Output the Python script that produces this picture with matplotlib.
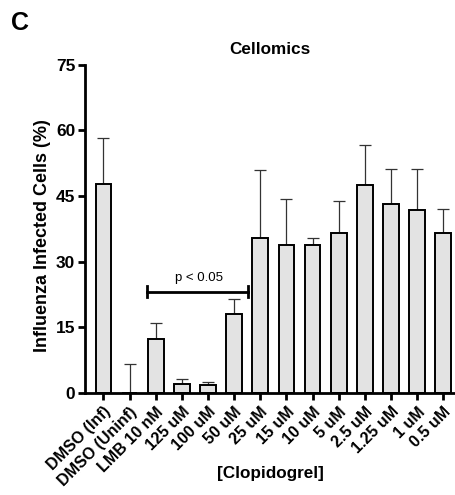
import matplotlib.pyplot as plt

plt.rcParams['font.family'] = ['Liberation Sans', 'DejaVu Sans']
plt.rcParams['font.weight'] = 'bold'

labels = ['DMSO (Inf)', 'DMSO (Uninf)', 'LMB 10 nM', '125 uM', '100 uM', '50 uM',
          '25 uM', '15 uM', '10 uM', '5 uM', '2.5 uM', '1.25 uM', '1 uM', '0.5 uM']
means = [47.8, 0.0, 12.3, 2.0, 1.9, 18.1, 35.5, 33.8, 33.8, 36.6, 47.5, 43.1, 41.9, 36.6]
errors = [10.5, 6.7, 3.6, 1.3, 0.6, 3.3, 15.4, 10.5, 1.7, 7.2, 9.1, 8.2, 9.4, 5.5]

fig = plt.figure(figsize=(4.55, 4.95), dpi=100)
ax = fig.add_axes([0.187, 0.206, 0.813, 0.663])

x = list(range(len(labels)))
ax.bar(x, means, width=0.6, color='#e3e3e3', edgecolor='black', linewidth=1.4, zorder=2)
ax.errorbar(x, means, yerr=[[0] * len(errors), errors], fmt='none', ecolor='#333333',
            elinewidth=0.9, capsize=4, capthick=0.9, zorder=1)

# significance bracket LMB..50 uM
ax.plot([1.65, 5.55], [23.2, 23.2], color='black', lw=2)
ax.plot([1.65, 1.65], [22.0, 24.4], color='black', lw=2)
ax.plot([5.55, 5.55], [22.0, 24.4], color='black', lw=2)
ax.text(3.65, 24.9, 'p < 0.05', ha='center', va='bottom', fontsize=9.5, fontweight='normal')

ax.set_xlim(-0.7, 13.45)
ax.set_ylim(0, 75)
ax.set_yticks([0, 15, 30, 45, 60, 75])
ax.set_xticks(x)
ax.set_xticklabels(labels, rotation=45, ha='right', rotation_mode='anchor', fontsize=11.5)
ax.tick_params(axis='y', labelsize=12.5, width=2, length=5, pad=2)
ax.tick_params(axis='x', width=2, length=5, pad=3)
for s in ['top', 'right']:
    ax.spines[s].set_visible(False)
for s in ['left', 'bottom']:
    ax.spines[s].set_linewidth(2)

ax.set_ylabel('Influenza Infected Cells (%)', fontsize=13, fontweight='bold')
ax.yaxis.set_label_coords(-0.093, 0.48)
ax.set_xlabel('[Clopidogrel]', fontsize=12.3, fontweight='bold')
ax.xaxis.set_label_coords(0.5, -0.222)
ax.set_title('Cellomics', fontsize=12.3, fontweight='bold', pad=8)
fig.text(0.024, 0.978, 'C', fontsize=18, fontweight='bold', va='top')

fig.savefig('out.png', dpi=100)
